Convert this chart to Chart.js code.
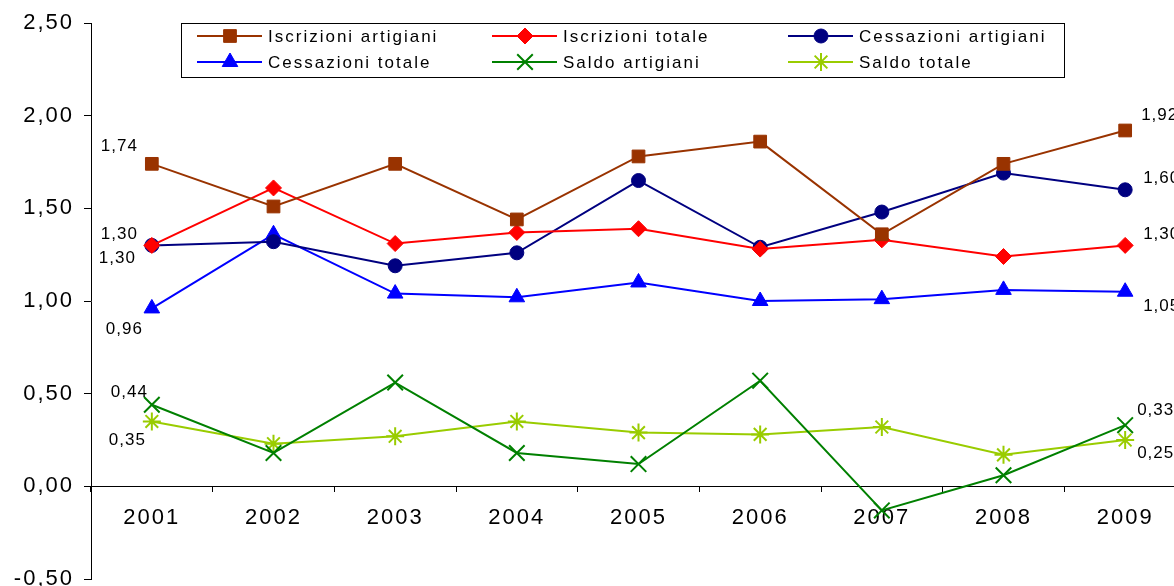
<!DOCTYPE html>
<html>
<head>
<meta charset="utf-8">
<script src="https://cdn.jsdelivr.net/npm/chart.js@4.4.0/dist/chart.umd.min.js"></script>
<style>
  html, body { margin: 0; padding: 0; background: #fff; overflow: hidden; }
  canvas { display: block; }
</style>
</head>
<body>
<!-- il grafico originale continua oltre i bordi destro e inferiore: la tela e' piu' grande della finestra -->
<canvas id="chart" width="1199" height="592"></canvas>
<script>
// dati
const years = ['2001', '2002', '2003', '2004', '2005', '2006', '2007', '2008', '2009'];
const iscrizioniArtigiani = [1.74, 1.51, 1.74, 1.44, 1.78, 1.86, 1.36, 1.74, 1.92];
const iscrizioniTotale    = [1.30, 1.61, 1.31, 1.37, 1.39, 1.28, 1.33, 1.24, 1.30];
const cessazioniArtigiani = [1.30, 1.32, 1.19, 1.26, 1.65, 1.29, 1.48, 1.69, 1.60];
const cessazioniTotale    = [0.96, 1.36, 1.04, 1.02, 1.10, 1.00, 1.01, 1.06, 1.05];
const saldoArtigiani      = [0.44, 0.18, 0.56, 0.18, 0.12, 0.57, -0.13, 0.06, 0.33];
const saldoTotale         = [0.35, 0.23, 0.27, 0.35, 0.29, 0.28, 0.32, 0.17, 0.25];
const yMin = -0.5, yMax = 2.5, yStep = 0.5;

const FONT = 'Liberation Sans, Arial, sans-serif';
const fmt = v => v.toFixed(2).replace('.', ',');

// etichette ai due estremi: [dx, dy] rispetto al punto
const endLabels = [
  { first: [-15, -18], last: [16, -15] },
  { first: [-15, -11], last: [18, -11] },
  { first: [-17, 13],  last: [18, -11] },
  { first: [-10, 21],  last: [18, 15] },
  { first: [-5, -12],  last: [12, -15] },
  { first: [-7, 19],   last: [12, 13] }
];

function ds(label, data, color, style, radius, bw) {
  return {
    label: label,
    data: data,
    borderColor: color,
    backgroundColor: color,
    borderWidth: 2,
    pointStyle: style,
    pointRadius: radius,
    pointHoverRadius: radius,
    pointBackgroundColor: color,
    pointBorderColor: color,
    pointBorderWidth: bw,
    tension: 0
  };
}

// etichette numeriche su primo e ultimo punto
const valueLabels = {
  id: 'valueLabels',
  afterDatasetsDraw(chart) {
    const ctx = chart.ctx;
    ctx.save();
    ctx.letterSpacing = '1px';
    ctx.font = '17px ' + FONT;
    ctx.fillStyle = '#000';
    ctx.textBaseline = 'middle';
    chart.data.datasets.forEach((d, i) => {
      const pts = chart.getDatasetMeta(i).data;
      const cfg = endLabels[i];
      const p0 = pts[0], p1 = pts[pts.length - 1];
      ctx.textAlign = 'right';
      ctx.fillText(fmt(d.data[0]), p0.x + cfg.first[0] + 1, p0.y + cfg.first[1]);
      ctx.textAlign = 'left';
      ctx.fillText(fmt(d.data[d.data.length - 1]), p1.x + cfg.last[0], p1.y + cfg.last[1]);
    });
    ctx.restore();
  }
};

// legenda a tre colonne dentro un riquadro
const boxLegend = {
  id: 'boxLegend',
  afterDraw(chart) {
    const ctx = chart.ctx;
    const cols = [197, 492, 788];
    const rows = [36, 62];
    ctx.save();
    ctx.letterSpacing = '2px';
    ctx.strokeStyle = '#000';
    ctx.lineWidth = 1;
    ctx.strokeRect(181.5, 23.5, 883, 54);
    ctx.font = '17px ' + FONT;
    ctx.textBaseline = 'middle';
    ctx.textAlign = 'left';
    chart.data.datasets.forEach((d, i) => {
      const x = cols[i % 3], y = rows[Math.floor(i / 3)];
      ctx.strokeStyle = d.borderColor;
      ctx.fillStyle = d.borderColor;
      ctx.lineWidth = 2;
      ctx.beginPath();
      ctx.moveTo(x, y);
      ctx.lineTo(x + 65, y);
      ctx.stroke();
      ctx.lineWidth = d.pointBorderWidth;
      Chart.helpers.drawPoint(ctx, {
        pointStyle: d.pointStyle, radius: d.pointRadius, rotation: 0, borderWidth: d.pointBorderWidth
      }, x + 33, y);
      ctx.fillStyle = '#000';
      ctx.fillText(d.label, x + 71, y + 1);
    });
    ctx.restore();
  }
};

// spaziatura dei caratteri delle etichette degli assi
const spacing = {
  id: 'spacing',
  beforeDraw(chart) { chart.ctx.letterSpacing = '2px'; }
};

new Chart(document.getElementById('chart').getContext('2d'), {
  type: 'line',
  data: {
    labels: years,
    datasets: [
      ds('Iscrizioni artigiani', iscrizioniArtigiani, '#993300', 'rect', 9, 1),
      ds('Iscrizioni totale', iscrizioniTotale, '#ff0000', 'rectRot', 8, 1),
      ds('Cessazioni artigiani', cessazioniArtigiani, '#000080', 'circle', 7, 1),
      ds('Cessazioni totale', cessazioniTotale, '#0000ff', 'triangle', 9, 1),
      ds('Saldo artigiani', saldoArtigiani, '#008000', 'crossRot', 11, 2),
      ds('Saldo totale', saldoTotale, '#99cc00', 'star', 9, 2)
    ]
  },
  options: {
    responsive: false,
    animation: false,
    layout: { padding: { left: 0, top: 23, right: 0, bottom: 0 } },
    plugins: {
      legend: { display: false },
      tooltip: { enabled: false }
    },
    scales: {
      x: {
        type: 'category',
        position: { y: 0 },
        offset: true,
        grid: { drawOnChartArea: false, drawTicks: true, tickLength: 5, color: '#000', offset: true },
        border: { display: true, color: '#000', width: 1 },
        ticks: { color: '#000', font: { size: 22, family: FONT }, padding: 13, maxRotation: 0, autoSkip: false },
        afterFit(s) { s.paddingLeft = 0; s.paddingRight = 0; }
      },
      y: {
        min: yMin,
        max: yMax,
        ticks: { stepSize: yStep, color: '#000', font: { size: 22, family: FONT }, padding: 10,
                 callback: v => fmt(v) },
        grid: { drawOnChartArea: false, drawTicks: true, tickLength: 7, color: '#000' },
        border: { display: true, color: '#000', width: 1 },
        afterFit(s) { s.width = 91; s.paddingTop = 0; s.paddingBottom = 0; }
      }
    }
  },
  plugins: [spacing, valueLabels, boxLegend]
});
</script>
</body>
</html>
